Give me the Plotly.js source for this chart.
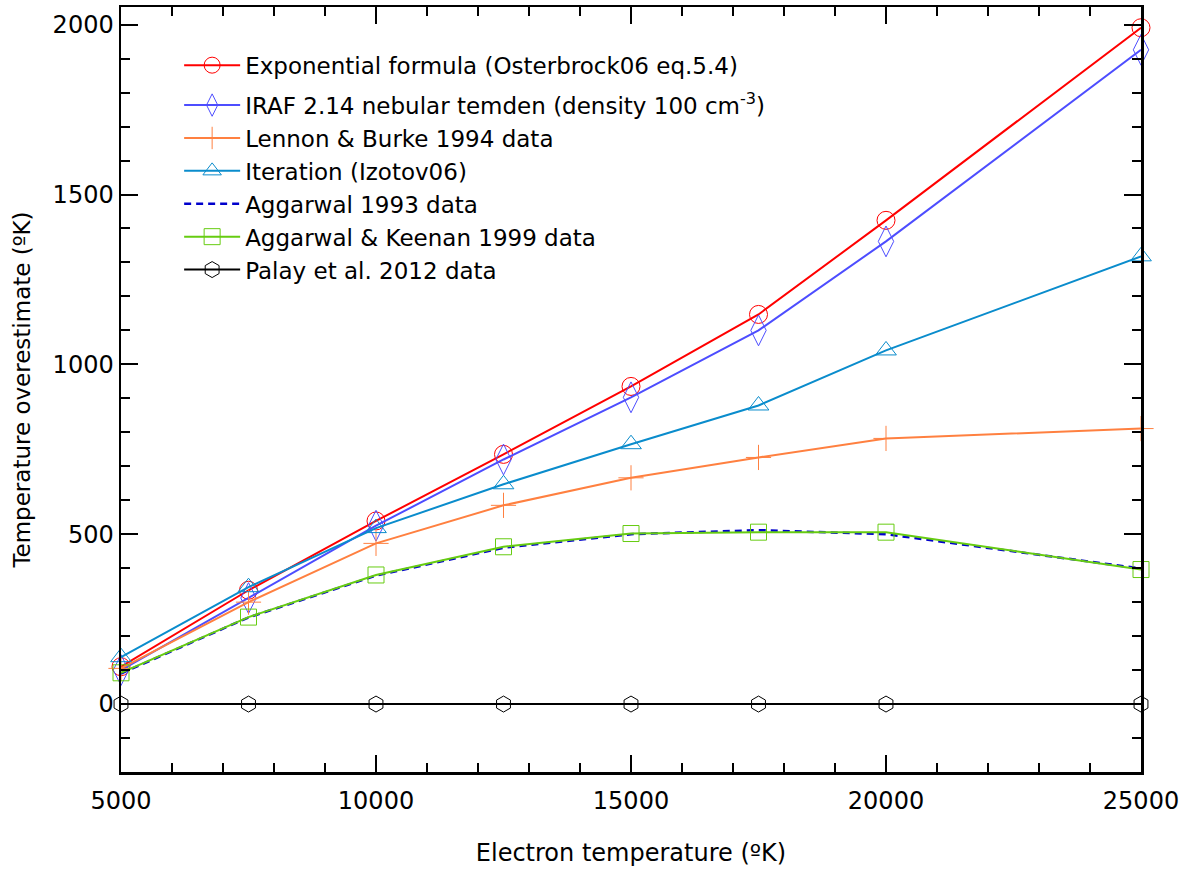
<!DOCTYPE html>
<html>
<head>
<meta charset="utf-8">
<script src="https://cdn.plot.ly/plotly-3.0.1.min.js"></script>
<style>html,body{margin:0;padding:0;background:#fff;}#chart{width:1189px;height:869px;}</style>
</head>
<body>
<div id="chart"></div>
<script>
const temps = [5000, 7500, 10000, 12500, 15000, 17500, 20000, 25000];
const exponential = [110, 335, 539, 735, 935, 1147, 1424, 1991];
const iraf = [100, 312, 525, 720, 903, 1100, 1362, 1926];
const lennonBurke = [105, 300, 473, 585, 666, 726, 782, 811];
const iteration = [138, 344, 518, 647, 765, 879, 1041, 1318];
const aggarwal93 = [90, 255, 378, 460, 500, 512, 500, 399];
const aggarwalKeenan99 = [92, 256, 380, 463, 502, 506, 506, 396];
const palay2012 = [0, 0, 0, 0, 0, 0, 0, 0];
const names = [
  'Exponential formula (Osterbrock06 eq.5.4)',
  'IRAF 2.14 nebular temden (density 100 cm<sup>-3</sup>)',
  'Lennon &amp; Burke 1994 data',
  'Iteration (Izotov06)',
  'Aggarwal 1993 data',
  'Aggarwal &amp; Keenan 1999 data',
  'Palay et al. 2012 data'
];

const FONT = 'DejaVu Sans, Verdana, sans-serif';
function tr(y, name, color, symbol, size, dash, width, group) {
  const t = {
    x: temps, y: y, name: name, type: 'scatter',
    mode: symbol ? 'lines+markers' : 'lines',
    line: {color: color, width: width || 2, dash: dash || 'solid'},
    legendgroup: group || 'b',
    cliponaxis: false
  };
  if (symbol) t.marker = {symbol: symbol, size: size, color: color, line: {color: color, width: 1}};
  return t;
}
const data = [
  tr(exponential, names[0], '#ff0000', 'circle-open', 18, null, 2, 'a'),
  tr(iraf, names[1], '#4d4dff', 'diamond-tall-open', 22),
  tr(lennonBurke, names[2], '#ff8040', 'cross-thin-open', 18),
  tr(iteration, names[3], '#0a8ccc', 'triangle-up-open', 18),
  tr(aggarwal93, names[4], '#0000cc', null, 0, '7px,5px', 2.5),
  tr(aggarwalKeenan99, names[5], '#66cc11', 'square-open', 16),
  tr(palay2012, names[6], '#000000', 'hexagon-open', 16)
];

const axisCommon = {
  showline: true, linecolor: '#000', linewidth: 2.5, mirror: 'allticks',
  ticks: 'inside', ticklen: 17, tickwidth: 2, tickcolor: '#000',
  showgrid: false, zeroline: false, tickformat: 'd',
  tickfont: {family: FONT, size: 24, color: '#000'}
};
const layout = {
  width: 1189, height: 869,
  margin: {l: 121, r: 48, t: 7, b: 97},
  paper_bgcolor: '#fff', plot_bgcolor: '#fff',
  font: {family: FONT, color: '#000'},
  showlegend: true,
  legend: {
    x: 0.057, y: 0.952, xanchor: 'left', yanchor: 'top',
    bgcolor: 'rgba(0,0,0,0)', borderwidth: 0, itemwidth: 56,
    font: {family: FONT, size: 23, color: '#000'},
    traceorder: 'grouped', tracegroupgap: 7
  },
  xaxis: Object.assign({}, axisCommon, {
    range: [5000, 25000], tickmode: 'linear', tick0: 5000, dtick: 5000,
    ticklabelstandoff: 6,
    minor: {dtick: 1000, ticklen: 9, tickwidth: 2, tickcolor: '#000', ticks: 'inside', showgrid: false},
    title: {text: 'Electron temperature (ºK)', font: {family: FONT, size: 24, color: '#000'}, standoff: 30}
  }),
  yaxis: Object.assign({}, axisCommon, {
    range: [-200, 2052], tickmode: 'linear', tick0: 0, dtick: 500,
    minor: {dtick: 100, ticklen: 9, tickwidth: 2, tickcolor: '#000', ticks: 'inside', showgrid: false},
    title: {text: 'Temperature overestimate (ºK)', font: {family: FONT, size: 23, color: '#000'}, standoff: 16}
  })
};
Plotly.newPlot('chart', data, layout, {displayModeBar: false, staticPlot: true});
</script>
</body>
</html>
